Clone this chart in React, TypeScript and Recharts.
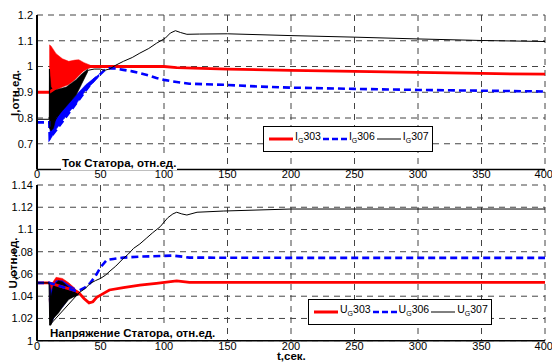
import React from 'react';
import { ComposedChart, Line, Area, XAxis, YAxis, CartesianGrid } from 'recharts';

const T_TICKS = [0, 50, 100, 150, 200, 250, 300, 350, 400];
const I_TICKS = [0.6, 0.7, 0.8, 0.9, 1, 1.1, 1.2];
const U_TICKS = [1, 1.02, 1.04, 1.06, 1.08, 1.1, 1.12, 1.14];

// stator current, [t, value]
const i303: [number, number][] = [
  [0, 0.9], [9.7, 0.9], [40, 1.0], [60, 1.0], [100, 1.0], [110, 0.996], [150, 0.99],
  [200, 0.985], [250, 0.981], [300, 0.977], [350, 0.973], [400, 0.97],
];
const i306: [number, number][] = [
  [0, 0.783], [9.7, 0.783], [10, 0.72], [45, 0.95], [49, 0.966], [53, 0.985], [57, 0.993], [62, 0.992],
  [68, 0.987], [75, 0.981], [81, 0.974], [88, 0.965], [94, 0.955], [100, 0.948], [107, 0.942],
  [120, 0.933], [147, 0.929], [175, 0.922], [200, 0.918], [250, 0.913], [300, 0.909],
  [350, 0.906], [400, 0.903],
];
const i307: [number, number][] = [
  [0, 0.795], [9.7, 0.795], [9.8, 0.99], [10.2, 0.76], [40, 0.985], [45, 0.99], [50, 0.99], [53, 0.985],
  [57, 0.99], [62, 1.005], [68, 1.02], [75, 1.035], [81, 1.052], [88, 1.07], [94, 1.09],
  [101, 1.11], [105, 1.13], [109, 1.139], [113, 1.132], [118, 1.125], [128, 1.126],
  [150, 1.127], [200, 1.12], [250, 1.114], [300, 1.107], [350, 1.101], [400, 1.097],
];

// oscillation envelopes, [t, low, high]
const i303Band: [number, number, number][] = [
  [9.7, 0.9, 1.084], [11, 0.91, 1.08], [15, 0.91, 1.05], [20, 0.92, 1.03], [25, 0.93, 1.02],
  [30, 0.95, 1.025], [33, 0.965, 1.026], [37, 0.985, 1.015], [42, 0.995, 1.005],
];
const i306Band: [number, number, number][] = [
  [10, 0.72, 0.78], [11, 0.72, 0.79], [15, 0.755, 0.8], [23, 0.81, 0.85], [31, 0.855, 0.89],
  [38.6, 0.91, 0.93], [45, 0.94, 0.955], [49, 0.962, 0.97],
];
const i307Band: [number, number, number][] = [
  [9.8, 0.76, 0.99], [11, 0.75, 0.92], [13, 0.76, 0.91], [15, 0.8, 0.91], [23, 0.845, 0.92],
  [31, 0.89, 0.95], [35, 0.93, 0.97], [40, 0.98, 0.99],
];

// stator voltage, [t, value]
const u303: [number, number][] = [
  [0, 1.052], [9.5, 1.052], [30, 1.045], [33, 1.043], [37, 1.038], [41, 1.034], [44, 1.035],
  [47, 1.039], [50, 1.041], [57, 1.0456], [68, 1.0477], [81, 1.05], [94, 1.0516],
  [110, 1.0537], [120, 1.0525], [200, 1.0525], [400, 1.0525],
];
const u306: [number, number][] = [
  [0, 1.052], [9.5, 1.052], [30, 1.045], [33, 1.045], [38, 1.048], [42, 1.052], [46, 1.058],
  [50, 1.066], [55, 1.0726], [60, 1.0735], [68, 1.0747], [81, 1.0756], [107, 1.0765],
  [115, 1.0755], [120, 1.0747], [200, 1.0745], [400, 1.0745],
];
const u307: [number, number][] = [
  [0, 1.052], [9.5, 1.052], [10, 1.014], [33, 1.043], [38, 1.047], [42, 1.0516], [46, 1.054],
  [50, 1.056], [54, 1.059], [57.5, 1.0627], [62, 1.067], [68, 1.074], [72, 1.078], [76, 1.083],
  [81, 1.087], [86, 1.092], [91, 1.097], [97, 1.1025], [103, 1.1106], [107, 1.114],
  [110, 1.1155], [114, 1.114], [118, 1.113], [126, 1.1155], [147, 1.1166], [200, 1.1184],
  [400, 1.1184],
];

const u303Band: [number, number, number][] = [
  [9.5, 1.038, 1.052], [11, 1.02, 1.05], [15, 1.03, 1.057], [20, 1.035, 1.056],
  [25, 1.04, 1.052], [30, 1.042, 1.047],
];
const u306Band: [number, number, number][] = [
  [9.6, 1.038, 1.052], [11, 1.015, 1.045], [15, 1.025, 1.054], [20, 1.03, 1.054],
  [25, 1.038, 1.05], [30, 1.042, 1.047],
];
const u307Band: [number, number, number][] = [
  [10, 1.014, 1.052], [11, 1.014, 1.04], [13, 1.02, 1.05], [17, 1.025, 1.054],
  [20, 1.03, 1.053], [25, 1.037, 1.048], [30, 1.04, 1.045], [33, 1.041, 1.044],
];

const RED = '#ff0000';
const BLUE = '#0000ff';
const BLACK = '#000000';
const FONT = '"Liberation Sans", Arial, sans-serif';

const pts = (a: [number, number][]) => a.map(([t, v]) => ({ t, v }));
const band = (a: [number, number, number][]) => a.map(([t, lo, hi]) => ({ t, r: [lo, hi] }));

const tickStyle = { fontSize: 11, fill: '#000', fontFamily: FONT };

type PanelProps = {
  top: number;
  height: number;
  xAxisHeight: number;
  domain: [number, number];
  yTicks: number[];
  hideFirst?: boolean;
  lines: [number, number][][];
  bands: [number, number, number][][];
};

const COLORS = [RED, BLUE, BLACK];

const Panel: React.FC<PanelProps> = ({ top, height, xAxisHeight, domain, yTicks, hideFirst, lines, bands }) => (
  <div style={{ position: 'absolute', left: 0, top }}>
    <ComposedChart width={552} height={height} margin={{ top: 15, right: 7, bottom: 0, left: 0 }}>
      <CartesianGrid stroke="#444" strokeDasharray="6 5" />
      <XAxis dataKey="t" type="number" domain={[0, 400]} ticks={T_TICKS} height={xAxisHeight}
        tick={tickStyle} tickLine={false} tickSize={0} tickMargin={1}
        axisLine={{ stroke: '#000', strokeWidth: 1.5 }} allowDataOverflow />
      <XAxis xAxisId="top" orientation="top" type="number" domain={[0, 400]} height={0}
        tick={false} tickLine={false} axisLine={{ stroke: '#000', strokeWidth: 1.5 }} />
      <YAxis type="number" domain={domain} ticks={yTicks} width={37} tick={tickStyle}
        tickLine={false} tickSize={0} tickMargin={4} interval={0}
        tickFormatter={(v: number) => (hideFirst && v === yTicks[0] ? '' : String(v))}
        axisLine={{ stroke: '#000', strokeWidth: 2 }} allowDataOverflow />
      <YAxis yAxisId="right" orientation="right" type="number" domain={domain} width={0}
        tick={false} tickLine={false} axisLine={{ stroke: '#000', strokeWidth: 2 }} />
      {bands.map((b, i) => (
        <Area key={'b' + i} data={band(b)} dataKey="r" type="linear" stroke={COLORS[i]}
          strokeWidth={0.5} fill={COLORS[i]} fillOpacity={1} isAnimationActive={false} />
      ))}
      <Line data={pts(lines[0])} dataKey="v" type="linear" stroke={RED} strokeWidth={2.8} dot={false} isAnimationActive={false} />
      <Line data={pts(lines[1])} dataKey="v" type="linear" stroke={BLUE} strokeWidth={2.6} strokeDasharray="7 4" dot={false} isAnimationActive={false} />
      <Line data={pts(lines[2])} dataKey="v" type="linear" stroke={BLACK} strokeWidth={1} dot={false} isAnimationActive={false} />
    </ComposedChart>
  </div>
);

const LegendBox: React.FC<{ left: number; top: number; sym: string }> = ({ left, top, sym }) => {
  const items = [
    { c: RED, w: 3, d: undefined, n: '303' },
    { c: BLUE, w: 2.6, d: '6 3', n: '306' },
    { c: BLACK, w: 1, d: undefined, n: '307' },
  ];
  return (
    <div style={{
      position: 'absolute', left, top, border: '1px solid #000', background: '#fff',
      display: 'flex', alignItems: 'center', padding: '3px 1px 4px 5px', fontFamily: FONT, fontSize: 10.5,
      lineHeight: '12px',
    }}>
      {items.map((it) => (
        <span key={it.n} style={{ display: 'flex', alignItems: 'center', marginRight: 2 }}>
          <svg width={24} height={8} style={{ marginRight: 2 }}>
            <line x1={0} y1={4} x2={24} y2={4} stroke={it.c} strokeWidth={it.w} strokeDasharray={it.d} />
          </svg>
          <span>{sym}<sub style={{ fontSize: 7, verticalAlign: -3 }}>G</sub>{it.n}</span>
        </span>
      ))}
    </div>
  );
};

const textBold: React.CSSProperties = { position: 'absolute', fontFamily: FONT, fontWeight: 'bold', fontSize: 11.5, whiteSpace: 'nowrap', lineHeight: '13px' };

export default function App() {
  return (
    <div style={{ position: 'absolute', left: 0, top: 0, width: 552, height: 362, background: '#fff', overflow: 'hidden' }}>
      <Panel top={0} height={185} xAxisHeight={15.5} domain={[0.6, 1.2]} yTicks={I_TICKS} hideFirst
        lines={[i303, i306, i307]} bands={[i303Band, i306Band, i307Band]} />
      <Panel top={170} height={192} xAxisHeight={21.3} domain={[1, 1.14]} yTicks={U_TICKS}
        lines={[u303, u306, u307]} bands={[u303Band, u306Band, u307Band]} />
      <LegendBox left={263} top={126} sym="I" />
      <LegendBox left={308} top={299} sym="U" />
      <div style={{ ...textBold, left: 61, top: 157, background: '#fff', padding: '0 1px' }}>Ток Статора, отн.ед.</div>
      <div style={{ ...textBold, left: 49, top: 327, background: '#fff', padding: '0 1px' }}>Напряжение Статора, отн.ед.</div>
      <div style={{ ...textBold, left: 277, top: 350 }}>t,сек.</div>
      <div style={{ ...textBold, left: 15, top: 93, transform: 'translate(-50%, -50%) rotate(-90deg)' }}>I,отн.ед.</div>
      <div style={{ ...textBold, left: 13, top: 263, transform: 'translate(-50%, -50%) rotate(-90deg)' }}>U,отн.ед.</div>
    </div>
  );
}
